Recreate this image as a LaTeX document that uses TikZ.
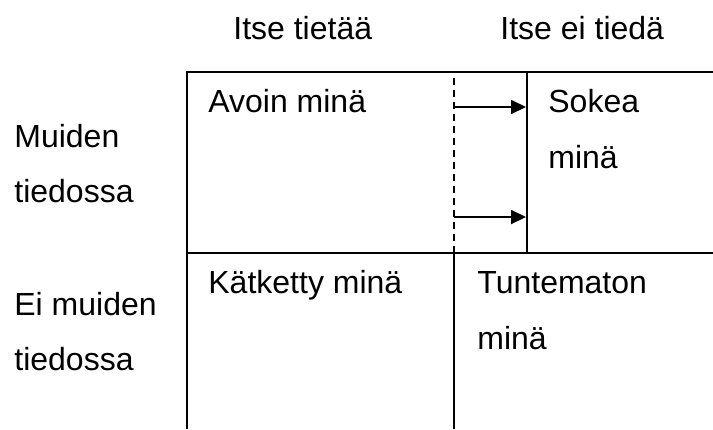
\documentclass[tikz,border=0pt]{standalone}
\usepackage{fontspec}
\setmainfont{Liberation Sans}
\usetikzlibrary{arrows.meta}
\tikzset{
  lbl/.style={anchor=base west, inner sep=0pt, font=\fontsize{16}{19}\selectfont},
  gridline/.style={line width=1pt},
  splitline/.style={line width=0.8pt, dash pattern=on 3.5pt off 2.5pt},
  shiftarrow/.style={line width=1pt, -{Triangle[length=7.5pt,width=7pt]}}
}
\begin{document}
\begin{tikzpicture}[x=0.5pt,y=-0.5pt]
        \useasboundingbox (0,0) rectangle (713,429);
        % corners of the window
        \coordinate (tl) at (187,72);
        \coordinate (tr) at (713,72);
        \coordinate (ml) at (187,253);
        \coordinate (mr) at (713,253);
        \coordinate (bl) at (187,429);
        \coordinate (dt) at (454,78);
        \coordinate (dm) at (454,253);
        \coordinate (db) at (454,429);
        \coordinate (st) at (527,72);
        \coordinate (sm) at (527,253);
        \draw[gridline] (tr) -- (tl) -- (bl);
        \draw[gridline] (ml) -- (mr);
        \draw[gridline] (st) -- (sm);
        \draw[gridline] (dm) -- (db);
        \draw[splitline] (dt) -- (dm);
        % arrows into the blind area
        \coordinate (afrom) at (454,107);
        \coordinate (ato) at (526,107);
        \coordinate (bfrom) at (454,217);
        \coordinate (bto) at (526,217);
        \draw[shiftarrow] (afrom) -- (ato);
        \draw[shiftarrow] (bfrom) -- (bto);
        \node[lbl] (itse) at (233,39) {Itse tietää};
        \node[lbl] (itseei) at (500,39) {Itse ei tiedä};
        \node[lbl] (muiden) at (14,147) {Muiden};
        \node[lbl] (muidenb) at (14,202) {tiedossa};
        \node[lbl] (eimuiden) at (14,315) {Ei muiden};
        \node[lbl] (eimuidenb) at (14,370) {tiedossa};
        \node[lbl] (avoin) at (208,112) {Avoin minä};
        \node[lbl] (sokea) at (548,112) {Sokea};
        \node[lbl] (sokeab) at (548,168) {minä};
        \node[lbl] (katketty) at (208,293) {Kätketty minä};
        \node[lbl] (tunt) at (477,293) {Tuntematon};
        \node[lbl] (tuntb) at (477,349) {minä};
\end{tikzpicture}
\end{document}
